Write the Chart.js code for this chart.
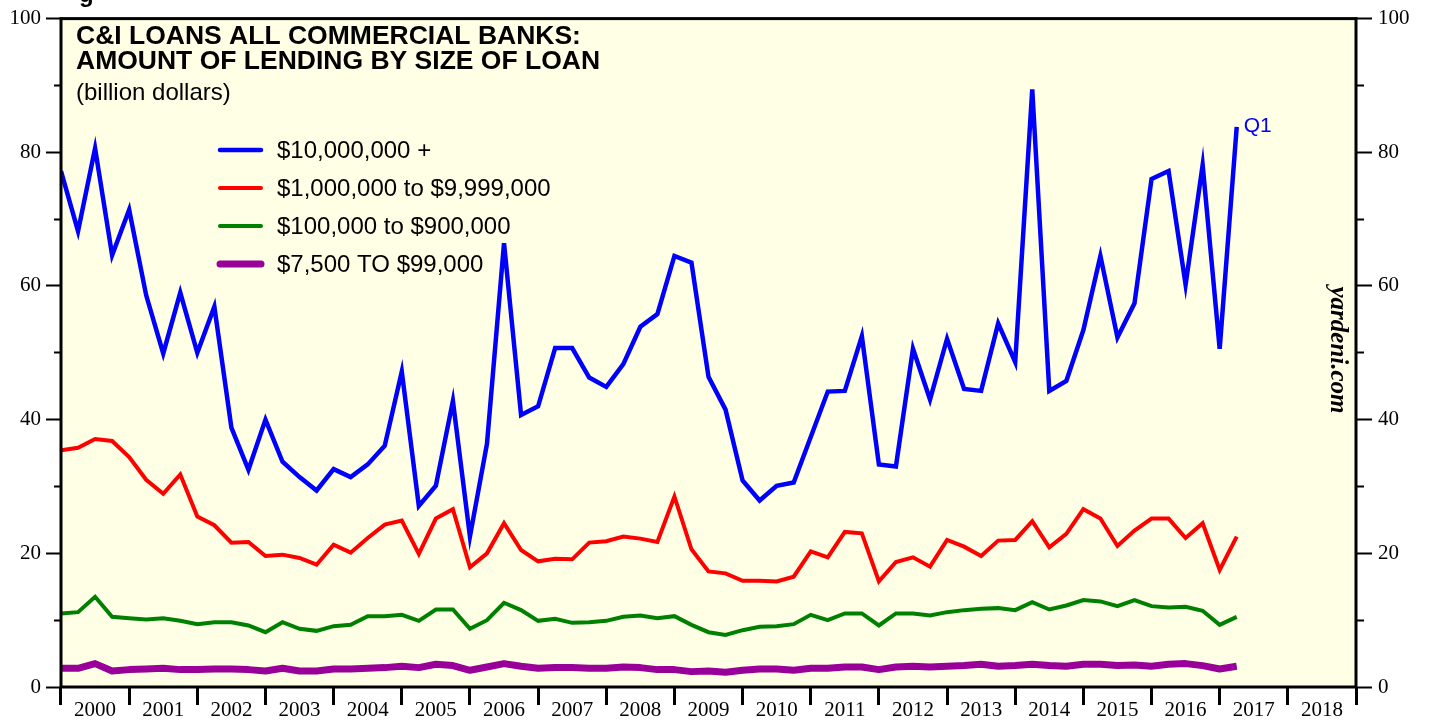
<!DOCTYPE html>
<html>
<head>
<meta charset="utf-8">
<script src="https://cdn.jsdelivr.net/npm/chart.js@4.4.0/dist/chart.umd.min.js"></script>
<style>
html,body{margin:0;padding:0;background:#ffffff;}
#c{display:block;}
</style>
</head>
<body>
<canvas id="c" width="1429" height="721"></canvas>
<script>
// ---------- data ----------
const startYear = 2000;
const yearLabels = ['2000','2001','2002','2003','2004','2005','2006','2007','2008','2009',
  '2010','2011','2012','2013','2014','2015','2016','2017','2018'];
const seriesLabels = ['$10,000,000 +','$1,000,000 to $9,999,000','$100,000 to $900,000','$7,500 TO $99,000'];
const seriesColors = ['#0000ff','#ff0000','#008000','#990099'];
const loans10mPlus = [77.2,68.2,80.6,64.6,71.4,58.6,49.9,59.0,50.0,56.9,
  38.8,32.5,40.0,33.7,31.4,29.4,32.6,31.4,33.3,36.1,
  47.2,27.1,30.1,42.8,22.5,36.4,66.4,40.7,42.0,50.7,
  50.7,46.3,44.9,48.3,53.9,55.8,64.5,63.5,46.4,41.5,
  30.9,27.9,30.1,30.6,37.4,44.2,44.3,52.5,33.3,33.0,
  50.6,43.0,52.1,44.6,44.3,54.4,48.6,89.4,44.3,45.8,
  53.4,64.5,52.3,57.4,76.0,77.2,60.2,78.1,50.6,83.8];
const loans1mTo10m = [35.4,35.8,37.1,36.8,34.4,31.0,28.9,31.8,25.5,24.2,
  21.6,21.7,19.6,19.8,19.3,18.3,21.3,20.1,22.3,24.3,
  24.9,19.9,25.2,26.6,17.9,20.0,24.5,20.5,18.8,19.2,
  19.1,21.6,21.8,22.5,22.2,21.7,28.5,20.6,17.3,17.0,
  15.9,15.9,15.8,16.5,20.3,19.4,23.2,23.0,15.8,18.7,
  19.4,18.0,22.0,21.0,19.6,21.9,22.0,24.8,20.9,22.9,
  26.6,25.2,21.1,23.4,25.2,25.2,22.3,24.5,17.5,22.5];
const loans100kTo900k = [11.0,11.2,13.5,10.5,10.3,10.1,10.3,9.9,9.4,9.7,
  9.7,9.2,8.2,9.7,8.7,8.4,9.1,9.3,10.6,10.6,
  10.8,9.9,11.6,11.6,8.7,10.0,12.6,11.5,9.9,10.2,
  9.6,9.7,9.9,10.5,10.7,10.3,10.6,9.3,8.2,7.8,
  8.5,9.0,9.1,9.4,10.8,10.0,11.0,11.0,9.2,11.0,
  11.0,10.7,11.2,11.5,11.7,11.8,11.5,12.7,11.6,12.2,
  13.0,12.8,12.1,13.0,12.1,11.9,12.0,11.4,9.3,10.5];
const loans7kTo99k = [2.8,2.8,3.5,2.4,2.6,2.7,2.8,2.6,2.6,2.7,
  2.7,2.6,2.4,2.8,2.4,2.4,2.7,2.7,2.8,2.9,
  3.1,2.9,3.4,3.2,2.5,3.0,3.5,3.1,2.8,2.9,
  2.9,2.8,2.8,3.0,2.9,2.6,2.6,2.3,2.4,2.2,
  2.5,2.7,2.7,2.5,2.8,2.8,3.0,3.0,2.6,3.0,
  3.1,3.0,3.1,3.2,3.4,3.1,3.2,3.4,3.2,3.1,
  3.4,3.4,3.2,3.3,3.1,3.4,3.5,3.2,2.7,3.1];
const quarterDates = loans10mPlus.map((_, i) => startYear + i / 4);
const lastLabel = 'Q1';
const titleLines = ['C&I LOANS ALL COMMERCIAL BANKS:', 'AMOUNT OF LENDING BY SIZE OF LOAN'];
const subtitle = '(billion dollars)';
const watermark = 'yardeni.com';
const yMin = 0, yMax = 100, yStep = 10, yLabelStep = 20;

// ---------- chart ----------
const seriesValues = [loans10mPlus, loans1mTo10m, loans100kTo900k, loans7kTo99k];
const widths = [4.5, 4, 4, 7];
const datasets = seriesValues.map((vals, k) => ({
  label: seriesLabels[k],
  data: vals.map((v, i) => ({x: quarterDates[i], y: v})),
  borderColor: seriesColors[k],
  backgroundColor: seriesColors[k],
  borderWidth: widths[k],
  pointRadius: 0,
  tension: 0,
  fill: false,
  borderJoinStyle: k === 3 ? 'round' : 'miter',
  borderCapStyle: 'butt',
  yAxisID: 'y'
}));

const serif = "'Liberation Serif', 'Times New Roman', serif";
const sans = "'Liberation Sans', Arial, sans-serif";

const decor = {
  id: 'decor',
  beforeDraw(chart) {
    const {ctx, chartArea: a} = chart;
    ctx.save();
    ctx.fillStyle = '#ffffe6';
    ctx.fillRect(a.left, a.top, a.right - a.left, a.bottom - a.top);
    ctx.restore();
  },
  afterDraw(chart) {
    const {ctx, chartArea: a} = chart;
    ctx.save();
    // frame
    ctx.strokeStyle = '#000';
    ctx.lineWidth = 3;
    ctx.strokeRect(a.left, a.top, a.right - a.left, a.bottom - a.top);
    // cut-off header glyph
    ctx.fillStyle = '#000';
    ctx.font = "bold 24px " + sans;
    ctx.textBaseline = 'alphabetic';
    ctx.fillText('g', 79, 2);
    // title
    ctx.font = "bold 26.5px " + sans;
    ctx.fillText(titleLines[0], 76, 44);
    ctx.fillText(titleLines[1], 76, 69);
    ctx.font = "24px " + sans;
    ctx.fillText(subtitle, 76, 100);
    // legend
    const ds = chart.data.datasets;
    const rowY = [150, 188, 226, 264];
    ctx.font = "24px " + sans;
    ds.forEach((d, k) => {
      ctx.beginPath();
      ctx.strokeStyle = d.borderColor;
      ctx.lineWidth = d.borderWidth;
      ctx.lineCap = 'round';
      ctx.moveTo(220, rowY[k]);
      ctx.lineTo(261, rowY[k]);
      ctx.stroke();
      ctx.fillStyle = '#000';
      ctx.textBaseline = 'middle';
      ctx.fillText(d.label, 277, rowY[k] + 1);
    });
    // last-point label
    const meta = chart.getDatasetMeta(0);
    const last = meta.data[meta.data.length - 1];
    ctx.fillStyle = seriesColors[0];
    ctx.font = "21px " + sans;
    ctx.textBaseline = 'middle';
    ctx.fillText(lastLabel, last.x + 7, last.y - 1);
    // watermark
    ctx.save();
    ctx.translate(1337, 350);
    ctx.rotate(Math.PI / 2);
    ctx.font = "italic bold 25px " + serif;
    ctx.textAlign = 'center';
    ctx.textBaseline = 'middle';
    ctx.fillStyle = '#000';
    ctx.fillText(watermark, 0, 0);
    ctx.restore();
    ctx.restore();
  }
};

const yTickFont = {family: serif, size: 21};

new Chart(document.getElementById('c'), {
  type: 'line',
  data: {datasets},
  options: {
    responsive: false,
    animation: false,
    devicePixelRatio: 1,
    layout: {padding: {top: 16, left: 0, right: 0, bottom: 0}},
    plugins: {legend: {display: false}, tooltip: {enabled: false}, title: {display: false}},
    scales: {
      x: {
        type: 'linear',
        position: 'bottom',
        min: startYear,
        max: startYear + yearLabels.length,
        afterBuildTicks: (s) => { s.ticks = yearLabels.map((_, i) => ({value: startYear + i + 0.5})); },
        afterFit: (s) => { s.height = 34; },
        ticks: {
          autoSkip: false, maxRotation: 0, minRotation: 0,
          callback: (v, i) => yearLabels[i],
          font: {family: serif, size: 21},
          color: '#000',
          padding: -7
        },
        grid: {offset: true, drawOnChartArea: false, drawTicks: true, tickLength: 18, tickWidth: 3, tickColor: '#000'},
        border: {display: false}
      },
      y: {
        position: 'left',
        min: yMin, max: yMax,
        afterFit: (s) => { s.width = 61; },
        ticks: {
          stepSize: yStep,
          callback: (v) => (v % yLabelStep === 0 ? String(v) : ''),
          font: yTickFont, color: '#000', padding: 5
        },
        grid: {
          drawOnChartArea: false, drawTicks: true, tickLength: 15, tickWidth: 2, tickColor: '#000',
          tickBorderDash: (c) => (c.tick && c.tick.value % yLabelStep !== 0 ? [0, 8, 7, 100] : [])
        },
        border: {display: false}
      },
      y2: {
        position: 'right',
        min: yMin, max: yMax,
        afterFit: (s) => { s.width = 73; },
        ticks: {
          stepSize: yStep,
          callback: (v) => (v % yLabelStep === 0 ? String(v) : ''),
          font: yTickFont, color: '#000', padding: 6
        },
        grid: {
          drawOnChartArea: false, drawTicks: true, tickLength: 16, tickWidth: 2, tickColor: '#000',
          tickBorderDash: (c) => (c.tick && c.tick.value % yLabelStep !== 0 ? [8, 100] : [])
        },
        border: {display: false}
      }
    }
  },
  plugins: [decor]
});
</script>
</body>
</html>
